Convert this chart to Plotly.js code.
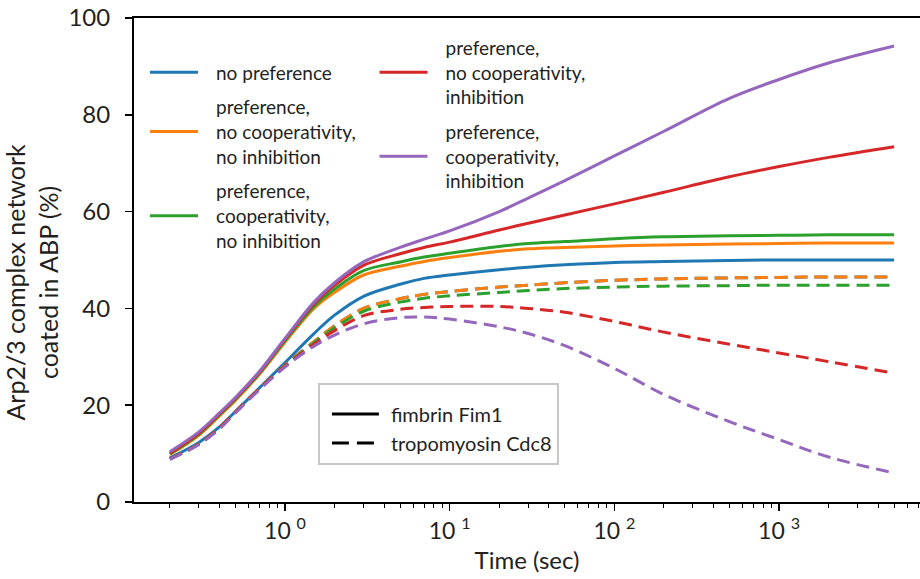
<!DOCTYPE html>
<html>
<head>
<meta charset="utf-8">
<script src="https://cdn.plot.ly/plotly-3.0.1.min.js"></script>
<style>html,body{margin:0;padding:0;background:#fff;}#chart{width:920px;height:579px;}</style>
</head>
<body>
<div id="chart"></div>
<script>
// Time (sec)
const time = [0.2, 0.3, 0.4, 0.5, 0.7, 1, 1.5, 2, 3, 5, 7, 10, 20, 30, 50, 100, 200, 500, 1000, 2000, 5000];

// Solid lines: fimbrin Fim1
const fimNoPref      = [9.1, 12.3, 15.5, 18.7, 23.6, 28.8, 34.8, 38.6, 42.5, 45.0, 46.2, 46.9, 48.0, 48.5, 49.0, 49.5, 49.7, 49.9, 50.0, 50.0, 50.0];
const fimPrefNoCoop  = [9.8, 13.8, 17.8, 21.0, 26.4, 33.0, 40.0, 43.3, 46.9, 48.7, 49.7, 50.5, 51.8, 52.3, 52.6, 52.9, 53.1, 53.3, 53.4, 53.5, 53.5];
const fimPrefCoop    = [9.9, 14.0, 18.0, 21.2, 26.6, 33.3, 40.4, 44.0, 47.8, 49.6, 50.6, 51.4, 52.8, 53.4, 53.8, 54.4, 54.8, 55.0, 55.1, 55.2, 55.2];
const fimNoCoopInh   = [10.1, 14.2, 18.2, 21.4, 26.8, 33.6, 40.9, 44.8, 48.9, 51.3, 52.6, 53.7, 56.2, 57.6, 59.3, 61.6, 64.0, 67.2, 69.3, 71.2, 73.4];
const fimCoopInh     = [10.4, 14.5, 18.4, 21.6, 27.0, 33.8, 41.3, 45.3, 49.6, 52.6, 54.3, 56.0, 60.0, 62.8, 66.4, 71.5, 76.6, 83.4, 87.3, 90.7, 94.2];

// Dashed lines: tropomyosin Cdc8
const tpmNoPref      = [8.9, 12.0, 15.3, 18.6, 23.4, 28.3, 33.1, 36.4, 40.0, 42.0, 42.9, 43.5, 44.4, 44.8, 45.3, 45.8, 46.1, 46.3, 46.4, 46.5, 46.5];
const tpmPrefNoCoop  = [8.9, 12.0, 15.3, 18.6, 23.4, 28.3, 33.1, 36.4, 40.0, 42.0, 42.9, 43.5, 44.4, 44.8, 45.3, 45.8, 46.1, 46.3, 46.4, 46.5, 46.5];
const tpmPrefCoop    = [8.9, 12.0, 15.3, 18.6, 23.4, 28.2, 32.9, 36.0, 39.4, 41.3, 42.1, 42.6, 43.3, 43.7, 44.1, 44.4, 44.6, 44.7, 44.8, 44.8, 44.8];
const tpmNoCoopInh   = [8.9, 12.0, 15.3, 18.6, 23.4, 28.1, 32.6, 35.4, 38.5, 39.8, 40.2, 40.4, 40.4, 40.0, 39.2, 37.3, 35.1, 32.6, 30.8, 29.0, 26.6];
const tpmCoopInh     = [8.8, 11.9, 15.1, 18.4, 23.2, 27.9, 32.2, 34.5, 36.8, 38.1, 38.2, 37.8, 36.2, 34.8, 32.3, 27.6, 22.2, 16.6, 12.9, 9.3, 6.0];

const names = [
  "no preference",
  "preference,<br>no cooperativity,<br>no inhibition",
  "preference,<br>cooperativity,<br>no inhibition",
  "preference,<br>no cooperativity,<br>inhibition",
  "preference,<br>cooperativity,<br>inhibition"
];
const colors = ["#1f77b4", "#ff7f0e", "#2ca02c", "#d62728", "#9467bd"];
const solidSeries = [fimNoPref, fimPrefNoCoop, fimPrefCoop, fimNoCoopInh, fimCoopInh];
const dashedSeries = [tpmNoPref, tpmPrefNoCoop, tpmPrefCoop, tpmNoCoopInh, tpmCoopInh];
const styleLabels = ["fimbrin Fim1", "tropomyosin Cdc8"];

const xTickVals = [1, 10, 100, 1000];
const xTickText = ["10 <sup>0</sup>", "10 <sup>1</sup>", "10 <sup>2</sup>", "10 <sup>3</sup>"];
const yTitle = "Arp2/3 complex network" + "&nbsp;".repeat(7) + "<br>coated in ABP (%)" + "&nbsp;".repeat(7);

const DASH = "13px,7px";
const traces = [];
for (let i = 0; i < 5; i++) {
  traces.push({
    x: time, y: solidSeries[i], type: "scatter", mode: "lines",
    name: names[i], line: {color: colors[i], width: 3, shape: "spline", smoothing: 1},
    legend: i < 3 ? "legend" : "legend2", legendgroup: "g" + i, showlegend: true
  });
  traces.push({
    x: time, y: dashedSeries[i], type: "scatter", mode: "lines",
    name: names[i] + " (Cdc8)", line: {color: colors[i], width: 3, dash: DASH, shape: "spline", smoothing: 1},
    showlegend: false
  });
}
traces.push({x: [null], y: [null], type: "scatter", mode: "lines", name: styleLabels[0],
  line: {color: "#000", width: 3}, legend: "legend3", legendgroup: "s0"});
traces.push({x: [null], y: [null], type: "scatter", mode: "lines", name: styleLabels[1],
  line: {color: "#000", width: 3, dash: "17px,8px"}, legend: "legend3", legendgroup: "s1"});

const FONT = "Lato, 'Open Sans', sans-serif";
const TXT = "#231f20";
const layout = {
  width: 920, height: 579,
  margin: {l: 134, r: 0, t: 18, b: 77},
  paper_bgcolor: "#fff", plot_bgcolor: "#fff",
  font: {family: FONT, color: TXT, size: 19},
  showlegend: true,
  xaxis: {
    type: "log", range: [-0.917, 3.856],
    showline: true, linecolor: "#000", linewidth: 2, mirror: true,
    showgrid: false, zeroline: false,
    ticks: "outside", ticklen: 7, tickwidth: 1.5, tickcolor: "#000",
    tickvals: xTickVals, ticktext: xTickText, ticklabelstandoff: 0,
    tickfont: {size: 23, family: FONT, color: TXT},
    minor: {ticks: "outside", ticklen: 4, tickwidth: 1, tickcolor: "#000", dtick: "D1", showgrid: false},
    title: {text: "Time (sec)", font: {size: 24, family: FONT, color: TXT}, standoff: 10},
    automargin: false
  },
  yaxis: {
    range: [0, 100], tickvals: [0, 20, 40, 60, 80, 100],
    showline: true, linecolor: "#000", linewidth: 2, mirror: false,
    showgrid: false, zeroline: false,
    ticks: "outside", ticklen: 7, tickwidth: 1.5, tickcolor: "#000", ticklabelstandoff: 10,
    tickfont: {size: 24, family: FONT, color: TXT},
    title: {text: yTitle, font: {size: 25, family: FONT, color: TXT}, standoff: 5},
    automargin: false
  },
  legend: {
    x: 0.014, y: 0.927, xanchor: "left", yanchor: "top",
    bgcolor: "rgba(0,0,0,0)", borderwidth: 0,
    font: {size: 19, family: FONT, color: TXT},
    tracegroupgap: 7, itemwidth: 61, traceorder: "grouped"
  },
  legend2: {
    x: 0.306, y: 0.978, xanchor: "left", yanchor: "top",
    bgcolor: "rgba(0,0,0,0)", borderwidth: 0,
    font: {size: 19, family: FONT, color: TXT},
    tracegroupgap: 7, itemwidth: 61, traceorder: "grouped"
  },
  legend3: {
    x: 0.234, y: 0.245, xanchor: "left", yanchor: "top",
    bgcolor: "#fff", bordercolor: "#c8c8c8", borderwidth: 2,
    font: {size: 20, family: FONT, color: TXT},
    title: {text: "&nbsp;", font: {size: 7, family: FONT, color: TXT}},
    tracegroupgap: 11, itemwidth: 61, traceorder: "normal"
  }
};

Plotly.newPlot("chart", traces, layout, {displayModeBar: false, staticPlot: true}).then(function (gd) {
  // lengthen legend line samples to match the reference
  gd.querySelectorAll(".legendlines path").forEach(function (p) {
    const inStyleLegend = p.closest(".legend3") !== null;
    p.setAttribute("d", inStyleLegend ? "M12,0h47" : "M5,0h48");
  });
});
</script>
</body>
</html>
